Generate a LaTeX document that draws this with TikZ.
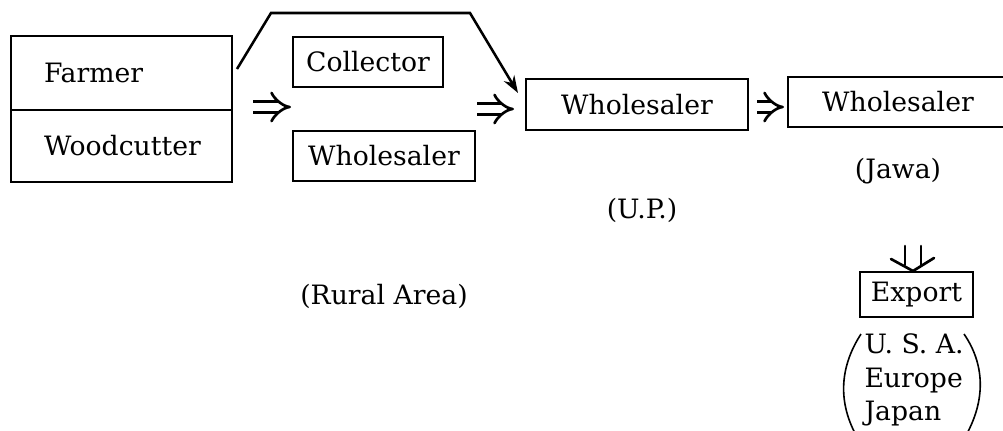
\documentclass[tikz,border=0pt]{standalone}
\usepackage{fontspec}
\setmainfont{DejaVu Serif}
\usetikzlibrary{arrows.meta}
\begin{document}
\begin{tikzpicture}[x=0.75pt,y=-0.75pt,
  every node/.style={font=\fontsize{20}{25}\selectfont},
  cell/.style={draw, line width=1.4pt, inner sep=0pt},
  leftcell/.style={cell, align=left, inner xsep=24.75pt, text width=116.25pt},
  flow/.style={line width=2pt, double, double distance=6pt, -{Implies[length=9pt,width=17pt]}},
  stroke/.style={line width=2pt, line cap=round, line join=round},
  bypass/.style={line width=1.9pt, -{Stealth[length=13pt,width=9pt]}},
  bracket/.style={line width=1.2pt},
  caption/.style={inner sep=0pt}]
\useasboundingbox (0,0) rectangle (1003,430);

% producers
\node[leftcell, minimum width=165.75pt, minimum height=55.5pt] (farmer) at (121.5,73) {Farmer};
\node[leftcell, minimum width=165.75pt, minimum height=54pt] (woodcutter) at (121.5,146) {Woodcutter};

% rural traders
\node[cell, minimum width=112.5pt, minimum height=37.5pt] (collector) at (368,62) {Collector};
\node[cell, minimum width=136.5pt, minimum height=37.5pt] (ruralw) at (384,156) {Wholesaler};
\node[caption] (rural) at (384,296) {(Rural Area)};

% provincial and island wholesalers
\node[cell, minimum width=166.5pt, minimum height=38.25pt] (upw) at (637,104.5) {Wholesaler};
\node[caption] (up) at (642,210) {(U.P.)};
\node[cell, minimum width=165pt, minimum height=37.5pt] (jawaw) at (898,102) {Wholesaler};
\node[caption] (jawa) at (898,171) {(Jawa)};

% export and its destinations
\node[cell, minimum width=84.75pt, minimum height=33.75pt] (export) at (916.5,294.5) {Export};
\node[caption, align=left] (dest) at (914,380) {U. S. A.\\Europe\\Japan};
\draw[bracket] (861,334) .. controls (839,368) and (837,405) .. (860,442);
\draw[bracket] (964,334) .. controls (986,366) and (986,404) .. (962,442);

% flows
\coordinate (f1s) at (253,107);
\coordinate (f1e) at (291,107);
\draw[flow] (f1s) -- (f1e);
\coordinate (f2s) at (477,109);
\coordinate (f2e) at (514,109);
\draw[flow] (f2s) -- (f2e);
\coordinate (f3s) at (757,107);
\coordinate (f3e) at (784,107);
\draw[flow] (f3s) -- (f3e);

% downward double arrow into the export box
\coordinate (tip) at (913,271);
\draw[stroke] (905,246) -- (905,265) (921,246) -- (921,265);
\draw[stroke] (891,259) -- (tip) -- (934,258);

% direct route from producers to the provincial wholesaler
\coordinate (b0) at (237,69);
\coordinate (b1) at (271,13);
\coordinate (b2) at (470,13);
\coordinate (b3) at (518,93);
\draw[bypass] (b0) -- (b1) -- (b2) -- (b3);
\end{tikzpicture}
\end{document}
